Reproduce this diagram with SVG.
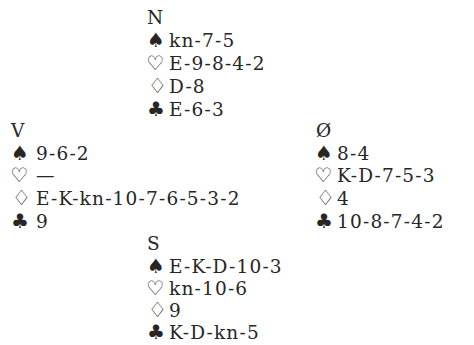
<svg xmlns="http://www.w3.org/2000/svg" width="474" height="345" viewBox="0 0 474 345">
<style>
.t{font-family:"DejaVu Serif","Liberation Serif",serif;font-size:18.5px;letter-spacing:1.2px;fill:#262626}
.s{font-family:"DejaVu Sans","Noto Sans",sans-serif;font-size:20px;fill:#262626}
.h{font-family:"DejaVu Sans","Noto Sans",sans-serif;font-size:20px;fill:#262626}
.d{font-family:"DejaVu Sans","Noto Sans",sans-serif;font-size:21px;fill:#262626}
</style>
<rect width="474" height="345" fill="#fff"/>
<g id="north">
<text class="t" x="147" y="24">N</text>
<text class="s" x="147" y="47">♠</text><text class="t" x="169" y="47">kn-7-5</text>
<text class="h" x="146" y="70">♡</text><text class="t" x="169" y="70">E-9-8-4-2</text>
<text class="d" x="148" y="93">♢</text><text class="t" x="169" y="93">D-8</text>
<text class="s" x="147" y="116">♣</text><text class="t" x="169" y="116">E-6-3</text>
</g>
<g id="west">
<text class="t" x="11" y="137">V</text>
<text class="s" x="11" y="160">♠</text><text class="t" x="36" y="160">9-6-2</text>
<text class="h" x="10" y="182">♡</text><text class="t" x="36" y="182">—</text>
<text class="d" x="12" y="205">♢</text><text class="t" x="36" y="205">E-K-kn-10-7-6-5-3-2</text>
<text class="s" x="11" y="228">♣</text><text class="t" x="36" y="228">9</text>
</g>
<g id="east">
<text class="t" x="316" y="137">Ø</text>
<text class="s" x="315" y="160">♠</text><text class="t" x="337" y="160">8-4</text>
<text class="h" x="314" y="182">♡</text><text class="t" x="337" y="182">K-D-7-5-3</text>
<text class="d" x="316" y="205">♢</text><text class="t" x="337" y="205">4</text>
<text class="s" x="315" y="228">♣</text><text class="t" x="337" y="228">10-8-7-4-2</text>
</g>
<g id="south">
<text class="t" x="147" y="250">S</text>
<text class="s" x="147" y="273">♠</text><text class="t" x="169" y="273">E-K-D-10-3</text>
<text class="h" x="146" y="295">♡</text><text class="t" x="169" y="295">kn-10-6</text>
<text class="d" x="148" y="317">♢</text><text class="t" x="169" y="317">9</text>
<text class="s" x="147" y="339">♣</text><text class="t" x="169" y="339">K-D-kn-5</text>
</g>
</svg>
